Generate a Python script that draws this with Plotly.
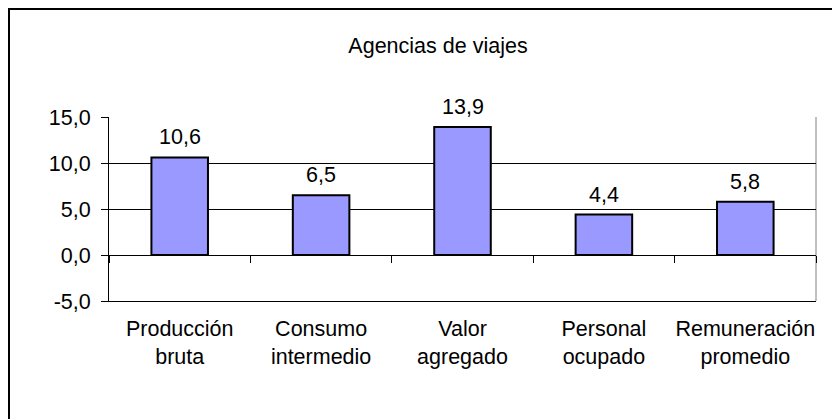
import plotly.graph_objects as go

categories = ["Producción<br>bruta", "Consumo<br>intermedio", "Valor<br>agregado",
              "Personal<br>ocupado", "Remuneración<br>promedio"]
values = [10.6, 6.5, 13.9, 4.4, 5.8]
y_ticks = [-5, 0, 5, 10, 15]
title_text = "Agencias de viajes"


def fmt(v):
    return f"{v:.1f}".replace(".", ",")


FONT = "Liberation Sans, Arial, sans-serif"
FS = 21.5
W, H = 840, 419
# page has an 8px body margin, so the figure is laid out 8px up/left
L, R, T, B = 101, 32, 109, 126

fig = go.Figure()
fig.add_trace(go.Bar(
    x=categories, y=values, width=0.4,
    marker=dict(color="#9999FF", line=dict(color="black", width=2)),
    xaxis="x", yaxis="y", hoverinfo="skip",
))
# invisible trace for the category axis crossing at zero (tick marks between categories)
fig.add_trace(go.Scatter(
    x=categories, y=[0] * len(categories), mode="markers",
    marker=dict(opacity=0), xaxis="x2", yaxis="y", hoverinfo="skip", showlegend=False,
))

for c, v in zip(categories, values):
    fig.add_annotation(
        x=c, y=v, xref="x", yref="y", text=fmt(v),
        showarrow=False, yanchor="bottom", yshift=6,
        font=dict(family=FONT, size=FS, color="black"),
    )

pw = W - L - R
ph = H - T - B
bx = (0 - L) / pw
by = (H - B - 0) / ph
# outer chart border (left and top visible)
fig.add_shape(type="line", xref="paper", yref="paper",
              x0=bx, x1=bx, y0=-(H + 20 - (H - B)) / ph, y1=by,
              line=dict(color="black", width=4))
fig.add_shape(type="line", xref="paper", yref="paper",
              x0=bx, x1=(W + 20 - L) / pw, y0=by, y1=by,
              line=dict(color="black", width=4))
# plot area border (gray) right side
fig.add_shape(type="line", xref="paper", yref="paper", x0=1, x1=1, y0=0, y1=1,
              line=dict(color="#808080", width=1), layer="below")

fig.update_layout(
    template="none",
    width=W, height=H,
    margin=dict(l=L, r=R, t=T, b=B, autoexpand=False),
    paper_bgcolor="white", plot_bgcolor="white",
    separators=",.",
    showlegend=False,
    font=dict(family=FONT, size=FS, color="black"),
    title=dict(text=title_text, x=430 / W, xref="container", xanchor="center",
               y=1 - 37 / H, yref="container", yanchor="middle",
               font=dict(family=FONT, size=FS, color="black")),
    xaxis=dict(type="category", showgrid=False, showline=True, linecolor="black", linewidth=1,
               ticks="", tickfont=dict(family=FONT, size=FS), ticklabelstandoff=8,
               range=[-0.5, 4.5], automargin=False, zeroline=False),
    xaxis2=dict(type="category", overlaying="x", matches="x", anchor="free",
                position=(0 - (-5)) / 20, showline=True, linecolor="black", linewidth=1.2,
                ticks="outside", ticklen=7, tickcolor="black", tickwidth=1,
                tickson="boundaries", showticklabels=False, showgrid=False,
                automargin=False, zeroline=False),
    yaxis=dict(range=[-5, 15], tickmode="array", tickvals=y_ticks,
               ticktext=[fmt(t) for t in y_ticks],
               showgrid=True, gridcolor="black", gridwidth=1,
               zeroline=False, showline=True, linecolor="black", linewidth=1,
               ticks="outside", ticklen=7, tickcolor="black", tickwidth=1,
               tickfont=dict(family=FONT, size=FS), ticklabelstandoff=6,
               automargin=False),
)

fig.write_html("out.html")
